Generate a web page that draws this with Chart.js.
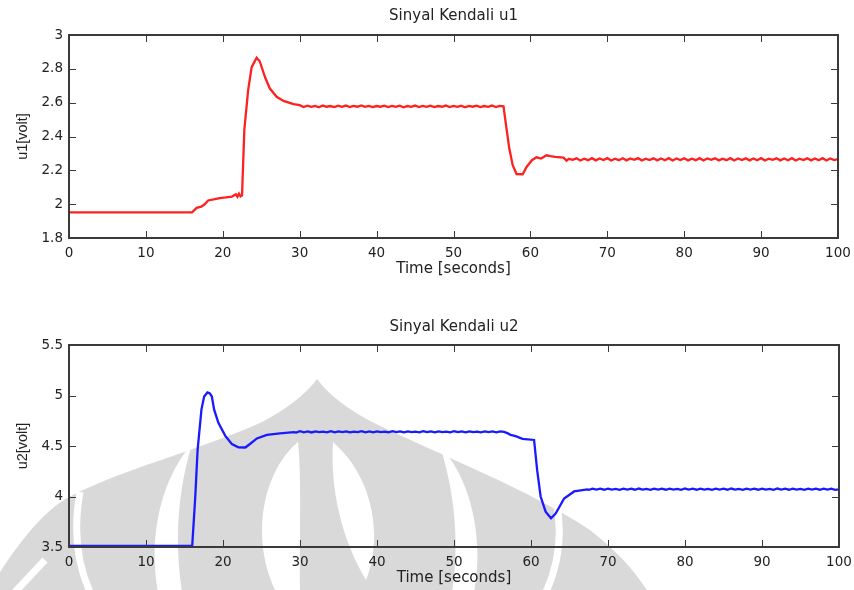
<!DOCTYPE html>
<html>
<head>
<meta charset="utf-8">
<script src="https://cdn.jsdelivr.net/npm/chart.js@4.4.1/dist/chart.umd.min.js"></script>
<style>
  html, body { margin: 0; padding: 0; background: #fff; overflow: hidden; }
  #top { position: absolute; left: 0; top: 0; width: 854px; height: 300px; }
  #bot { position: absolute; left: 0; top: 300px; width: 854px; height: 290px; }
</style>
</head>
<body>
<div id="top"><canvas id="c1"></canvas></div>
<div id="bot"><canvas id="c2"></canvas></div>
<script>
// Sinyal Kendali u1 / u2 — two MATLAB-style subplots

const xTicks = [0, 10, 20, 30, 40, 50, 60, 70, 80, 90, 100];
const u1Ticks = [1.8, 2, 2.2, 2.4, 2.6, 2.8, 3];
const u2Ticks = [3.5, 4, 4.5, 5, 5.5];

const u1Time = [
  0, 16, 16.6, 17.2, 17.6, 18.1, 18.8, 19.6, 20.4, 21.2, 21.7, 21.9, 22.1, 22.3, 22.5,
  22.8, 23.3, 23.75, 24.4, 24.8, 25.5, 26.1, 27, 27.9, 29.2, 30,
  30.5, 31, 31.5, 32, 32.5, 33, 33.5, 34, 34.5, 35, 35.5, 36, 36.5, 37, 37.5, 38, 38.5,
  39, 39.5, 40, 40.5, 41, 41.5, 42, 42.5, 43, 43.5, 44, 44.5, 45, 45.5, 46, 46.5, 47,
  47.5, 48, 48.5, 49, 49.5, 50, 50.5, 51, 51.5, 52, 52.5, 53, 53.5, 54, 54.5, 55, 55.5,
  56, 56.5,
  56.8, 57.25, 57.7, 58.2, 59, 59.5, 60.2, 60.8, 61.4, 62.1, 62.6, 63.2, 64.3, 64.7,
  65, 65.5, 66, 66.5, 67, 67.5, 68, 68.5, 69, 69.5, 70, 70.5, 71, 71.5, 72, 72.5, 73,
  73.5, 74, 74.5, 75, 75.5, 76, 76.5, 77, 77.5, 78, 78.5, 79, 79.5, 80, 80.5, 81, 81.5,
  82, 82.5, 83, 83.5, 84, 84.5, 85, 85.5, 86, 86.5, 87, 87.5, 88, 88.5, 89, 89.5, 90,
  90.5, 91, 91.5, 92, 92.5, 93, 93.5, 94, 94.5, 95, 95.5, 96, 96.5, 97, 97.5, 98, 98.5,
  99, 99.5, 100
];
const u1Volt = [
  1.952, 1.952, 1.978, 1.985, 1.998, 2.022, 2.028, 2.036, 2.040, 2.045, 2.058, 2.044, 2.062, 2.046, 2.052,
  2.44, 2.675, 2.81, 2.866, 2.845, 2.75, 2.685, 2.635, 2.61, 2.592, 2.585,
  2.574, 2.582, 2.575, 2.581, 2.573, 2.583, 2.576, 2.580, 2.574, 2.582, 2.575, 2.583, 2.574, 2.581, 2.576, 2.584, 2.575,
  2.581, 2.574, 2.580, 2.576, 2.582, 2.574, 2.581, 2.575, 2.582, 2.573, 2.580, 2.575, 2.583, 2.574, 2.581, 2.575, 2.582,
  2.574, 2.580, 2.576, 2.583, 2.574, 2.581, 2.575, 2.582, 2.573, 2.581, 2.576, 2.582, 2.574, 2.580, 2.575, 2.583, 2.574,
  2.581, 2.578,
  2.478, 2.33, 2.23, 2.178, 2.177, 2.22, 2.26, 2.277, 2.27, 2.289, 2.284, 2.28, 2.275, 2.257,
  2.268, 2.262, 2.271, 2.258, 2.269, 2.260, 2.272, 2.259, 2.270, 2.261, 2.272, 2.258, 2.269, 2.260, 2.271, 2.259, 2.270,
  2.262, 2.272, 2.258, 2.269, 2.261, 2.271, 2.259, 2.270, 2.260, 2.272, 2.258, 2.270, 2.261, 2.271, 2.259, 2.269, 2.260,
  2.272, 2.258, 2.270, 2.262, 2.271, 2.259, 2.269, 2.260, 2.272, 2.258, 2.270, 2.261, 2.271, 2.259, 2.270, 2.260, 2.272,
  2.258, 2.269, 2.262, 2.271, 2.259, 2.270, 2.260, 2.272, 2.258, 2.269, 2.261, 2.271, 2.259, 2.270, 2.260, 2.272, 2.258,
  2.270, 2.261, 2.266
];

const u2Time = [
  0, 16, 16.4, 16.7, 17.2, 17.55, 17.98, 18.3, 18.55, 18.85, 19.4, 20.3, 21.15, 22, 22.9,
  23.5, 24.4, 25.7, 27.4, 29.2,
  29.5, 30, 30.5, 31, 31.5, 32, 32.5, 33, 33.5, 34, 34.5, 35, 35.5, 36, 36.5, 37, 37.5,
  38, 38.5, 39, 39.5, 40, 40.5, 41, 41.5, 42, 42.5, 43, 43.5, 44, 44.5, 45, 45.5, 46,
  46.5, 47, 47.5, 48, 48.5, 49, 49.5, 50, 50.5, 51, 51.5, 52, 52.5, 53, 53.5, 54, 54.5,
  55, 55.5, 56, 56.5,
  57, 57.35, 58, 58.9, 60.4, 60.8, 61.25, 61.9, 62.6, 63.2, 64.3, 65.6, 67.3,
  67.5, 68, 68.5, 69, 69.5, 70, 70.5, 71, 71.5, 72, 72.5, 73, 73.5, 74, 74.5, 75, 75.5,
  76, 76.5, 77, 77.5, 78, 78.5, 79, 79.5, 80, 80.5, 81, 81.5, 82, 82.5, 83, 83.5, 84,
  84.5, 85, 85.5, 86, 86.5, 87, 87.5, 88, 88.5, 89, 89.5, 90, 90.5, 91, 91.5, 92, 92.5,
  93, 93.5, 94, 94.5, 95, 95.5, 96, 96.5, 97, 97.5, 98, 98.5, 99, 99.5, 100
];
const u2Volt = [
  3.51, 3.51, 4.0, 4.46, 4.86, 4.99, 5.03, 5.02, 4.99, 4.86, 4.73, 4.60, 4.52, 4.487, 4.485,
  4.52, 4.575, 4.61, 4.625, 4.638,
  4.632, 4.646, 4.636, 4.644, 4.634, 4.645, 4.637, 4.643, 4.635, 4.646, 4.636, 4.644, 4.638, 4.645, 4.635, 4.643, 4.637,
  4.646, 4.636, 4.644, 4.635, 4.645, 4.638, 4.643, 4.636, 4.646, 4.637, 4.644, 4.635, 4.645, 4.638, 4.643, 4.636, 4.646,
  4.637, 4.644, 4.635, 4.645, 4.638, 4.643, 4.636, 4.646, 4.637, 4.644, 4.635, 4.645, 4.638, 4.643, 4.636, 4.645, 4.637,
  4.644, 4.636, 4.645, 4.64,
  4.625, 4.61, 4.598, 4.57, 4.56, 4.26, 4.0, 3.85, 3.785, 3.83, 3.98, 4.05, 4.07,
  4.066, 4.078, 4.068, 4.077, 4.067, 4.078, 4.069, 4.076, 4.066, 4.078, 4.068, 4.077, 4.067, 4.079, 4.068, 4.076, 4.066,
  4.078, 4.069, 4.077, 4.067, 4.078, 4.068, 4.076, 4.066, 4.079, 4.068, 4.077, 4.067, 4.078, 4.069, 4.076, 4.066, 4.078,
  4.068, 4.077, 4.067, 4.079, 4.068, 4.076, 4.066, 4.078, 4.069, 4.077, 4.067, 4.078, 4.068, 4.076, 4.066, 4.079, 4.068,
  4.077, 4.067, 4.078, 4.069, 4.076, 4.066, 4.078, 4.068, 4.077, 4.067, 4.078, 4.068, 4.077, 4.066, 4.07
];

const TEXT = '#222';
const FONT = "'DejaVu Sans', 'Liberation Sans', sans-serif";

// box round the plot area, with MATLAB-style inward ticks on all four sides
const boxTicks = {
  id: 'boxTicks',
  afterDatasetsDraw(chart) {
    const { ctx, chartArea: a, scales } = chart;
    ctx.save();
    ctx.strokeStyle = '#3a3a3a';
    ctx.lineWidth = 1;
    ctx.beginPath();
    scales.x.ticks.forEach(t => {
      const px = Math.round(scales.x.getPixelForValue(t.value)) + 0.5;
      ctx.moveTo(px, a.bottom); ctx.lineTo(px, a.bottom - 7);
      ctx.moveTo(px, a.top); ctx.lineTo(px, a.top + 7);
    });
    scales.y.ticks.forEach(t => {
      const py = Math.round(scales.y.getPixelForValue(t.value)) + 0.5;
      ctx.moveTo(a.left, py); ctx.lineTo(a.left + 7, py);
      ctx.moveTo(a.right, py); ctx.lineTo(a.right - 7, py);
    });
    ctx.stroke();
    ctx.lineWidth = 2;
    ctx.strokeRect(a.left, a.top, a.right - a.left, a.bottom - a.top);
    ctx.restore();
  }
};

// faint grey logo behind the lower plot (page coordinates, shifted by the canvas offset)
const watermark = {
  id: 'watermark',
  beforeDraw(chart) {
    const ctx = chart.ctx;
    ctx.save();
    ctx.translate(0, -300);
    ctx.fillStyle = '#d9d9d9';
    ctx.beginPath();
    ctx.moveTo(-5, 592); ctx.lineTo(-5, 580);
    ctx.bezierCurveTo(20, 540, 45, 510, 69, 497);
    ctx.bezierCurveTo(120, 470, 200, 450, 262, 422);
    ctx.quadraticCurveTo(300, 402, 317, 379);
    ctx.quadraticCurveTo(334, 402, 372, 422);
    ctx.bezierCurveTo(440, 455, 530, 490, 590, 530);
    ctx.bezierCurveTo(615, 550, 635, 570, 648, 592);
    ctx.closePath();
    ctx.fill();

    ctx.fillStyle = '#fff';
    ctx.strokeStyle = '#fff';
    ctx.lineWidth = 7;
    ctx.beginPath();
    ctx.moveTo(80, 492); ctx.quadraticCurveTo(70, 548, 90, 592);
    ctx.moveTo(556, 500); ctx.quadraticCurveTo(566, 548, 546, 592);
    ctx.moveTo(45, 560); ctx.lineTo(15, 592);
    ctx.stroke();

    ctx.beginPath();
    ctx.moveTo(192, 444); ctx.bezierCurveTo(160, 480, 148, 540, 158, 592);
    ctx.lineTo(182, 592); ctx.bezierCurveTo(174, 540, 178, 490, 192, 444);
    ctx.moveTo(440, 446); ctx.bezierCurveTo(472, 480, 484, 540, 474, 592);
    ctx.lineTo(452, 592); ctx.bezierCurveTo(460, 540, 454, 490, 440, 446);
    ctx.moveTo(298, 442); ctx.bezierCurveTo(262, 472, 250, 540, 276, 592);
    ctx.lineTo(300, 592); ctx.bezierCurveTo(299, 540, 302, 480, 298, 442);
    ctx.moveTo(333, 442); ctx.bezierCurveTo(376, 480, 382, 540, 366, 580);
    ctx.bezierCurveTo(342, 540, 330, 490, 333, 442);
    ctx.fill();
    ctx.restore();
  }
};

function fmtTick(v) {
  return String(parseFloat(v.toFixed(2)));
}

function mkPlot(id, cfg) {
  const pts = cfg.time.map((t, i) => ({ x: t, y: cfg.volt[i] }));
  return new Chart(document.getElementById(id), {
    type: 'line',
    data: {
      datasets: [{
        data: pts,
        borderColor: cfg.color,
        borderWidth: 2.3,
        pointRadius: 0,
        tension: 0,
        fill: false
      }]
    },
    plugins: cfg.plugins,
    options: {
      responsive: true,
      maintainAspectRatio: false,
      animation: false,
      events: [],
      layout: { autoPadding: false, padding: { left: 0, right: cfg.right, top: 0, bottom: 0 } },
      plugins: {
        legend: { display: false },
        tooltip: { enabled: false },
        title: {
          display: true,
          text: cfg.title,
          fullSize: false,
          color: TEXT,
          font: { family: FONT, size: 15, weight: 'normal' },
          padding: cfg.titlePad
        }
      },
      scales: {
        x: {
          type: 'linear',
          min: 0, max: 100,
          afterBuildTicks: s => { s.ticks = xTicks.map(v => ({ value: v })); },
          afterFit: s => {
            s.height = cfg.xHeight;
            s.paddingLeft = 0;
            s.paddingRight = 0;
          },
          grid: { display: false, drawTicks: false },
          border: { display: false },
          ticks: {
            autoSkip: false, maxRotation: 0, padding: 7,
            color: TEXT, font: { family: FONT, size: 13.5 },
            callback: v => fmtTick(v)
          },
          title: {
            display: true, text: 'Time [seconds]', color: TEXT,
            font: { family: FONT, size: 15 },
            padding: { top: 0, bottom: cfg.xTitlePad }
          }
        },
        y: {
          type: 'linear',
          min: cfg.yTicks[0], max: cfg.yTicks[cfg.yTicks.length - 1],
          afterBuildTicks: s => { s.ticks = cfg.yTicks.map(v => ({ value: v })); },
          afterFit: s => { s.width = 69; },
          grid: { display: false, drawTicks: false },
          border: { display: false },
          ticks: {
            autoSkip: false, padding: 6,
            color: TEXT, font: { family: FONT, size: 13.5 },
            callback: v => fmtTick(v)
          },
          title: {
            display: true, text: cfg.yLabel, color: TEXT,
            font: { family: "'Liberation Sans', Arial, sans-serif", size: 14.5 },
            padding: { top: 13.8, bottom: 0 }
          }
        }
      }
    }
  });
}

mkPlot('c1', {
  time: u1Time, volt: u1Volt, color: '#ff2020',
  title: 'Sinyal Kendali u1', yLabel: 'u1[volt]', yTicks: u1Ticks,
  titlePad: { top: 7, bottom: 10 }, xHeight: 62, xTitlePad: 22, right: 16,
  plugins: [boxTicks]
});

mkPlot('c2', {
  time: u2Time, volt: u2Volt, color: '#1a1aff',
  title: 'Sinyal Kendali u2', yLabel: 'u2[volt]', yTicks: u2Ticks,
  titlePad: { top: 18, bottom: 9 }, xHeight: 43, xTitlePad: 3, right: 15,
  plugins: [watermark, boxTicks]
});
</script>
</body>
</html>
